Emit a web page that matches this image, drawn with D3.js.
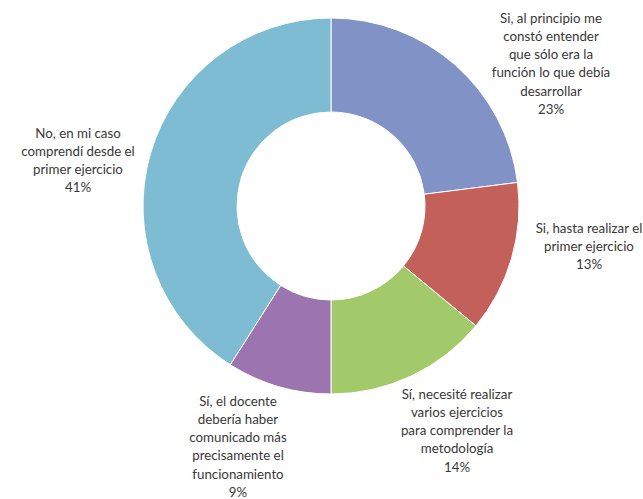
<!DOCTYPE html>
<html>
<head>
<meta charset="utf-8">
<script src="https://cdn.jsdelivr.net/npm/d3@7"></script>
<style>
  body { margin: 0; background: #fff; }
  text { font-family: Lato, "Open Sans", sans-serif; }
</style>
</head>
<body>
<script>
// ----------------------------------- DATA --------------------------------------------
var categories = [
  ["Si, al principio me", "constó entender", "que sólo era la", "función lo que debía", "desarrollar"],
  ["Si, hasta realizar el", "primer ejercicio"],
  ["Sí, necesité realizar", "varios ejercicios", "para comprender la", "metodología"],
  ["Sí, el docente", "debería haber", "comunicado más", "precisamente el", "funcionamiento"],
  ["No, en mi caso", "comprendí desde el", "primer ejercicio"]
]
var values = [23, 13, 14, 9, 41]
var colors = ["#8192c7", "#c4605a", "#a2c96a", "#9c75b0", "#7ebcd3"]

// ----------------------------------- SVG --------------------------------------------
var width = 643
var height = 499
var cx = 331, cy = 206
var outerR = 188, innerR = 94

var svg = d3.select('body')
  .append('svg')
  .attr('width', width)
  .attr('height', height)

svg.append('rect')
  .attr('width', '100%')
  .attr('height', '100%')
  .attr('fill', '#fff')

// ----------------------------------- DONUT --------------------------------------------
var pie = d3.pie().sort(null).value(d => d)
var arc = d3.arc().innerRadius(innerR).outerRadius(outerR)

var slices = pie(values)

var g = svg.append('g').attr('transform', 'translate(' + cx + ',' + cy + ')')

g.selectAll('path')
  .data(slices)
  .enter()
  .append('path')
  .attr('d', arc)
  .attr('fill', (d, i) => colors[i])
  .attr('stroke', '#fff')
  .attr('stroke-width', 1)

// ----------------------------------- LABELS --------------------------------------------
// label block centers (Excel-placed labels, set by hand)
var labelPos = [[551, 18], [589, 228], [457, 394], [238, 401], [78, 133]]
var lineH = 18.3

var labels = svg.selectAll('text.lbl')
  .data(slices)
  .enter()
  .append('text')
  .attr('class', 'lbl')
  .attr('text-anchor', 'middle')
  .attr('font-size', 13.3)
  .attr('fill', '#383838')

labels.each(function(d, i) {
  var lines = categories[i].concat([d3.format('.0%')(d.value / d3.sum(values))])
  var t = d3.select(this)
  lines.forEach(function(l, k) {
    t.append('tspan')
      .attr('x', labelPos[i][0])
      .attr('y', labelPos[i][1] + k * lineH + 4.5)
      .text(l)
  })
})
</script>
</body>
</html>
